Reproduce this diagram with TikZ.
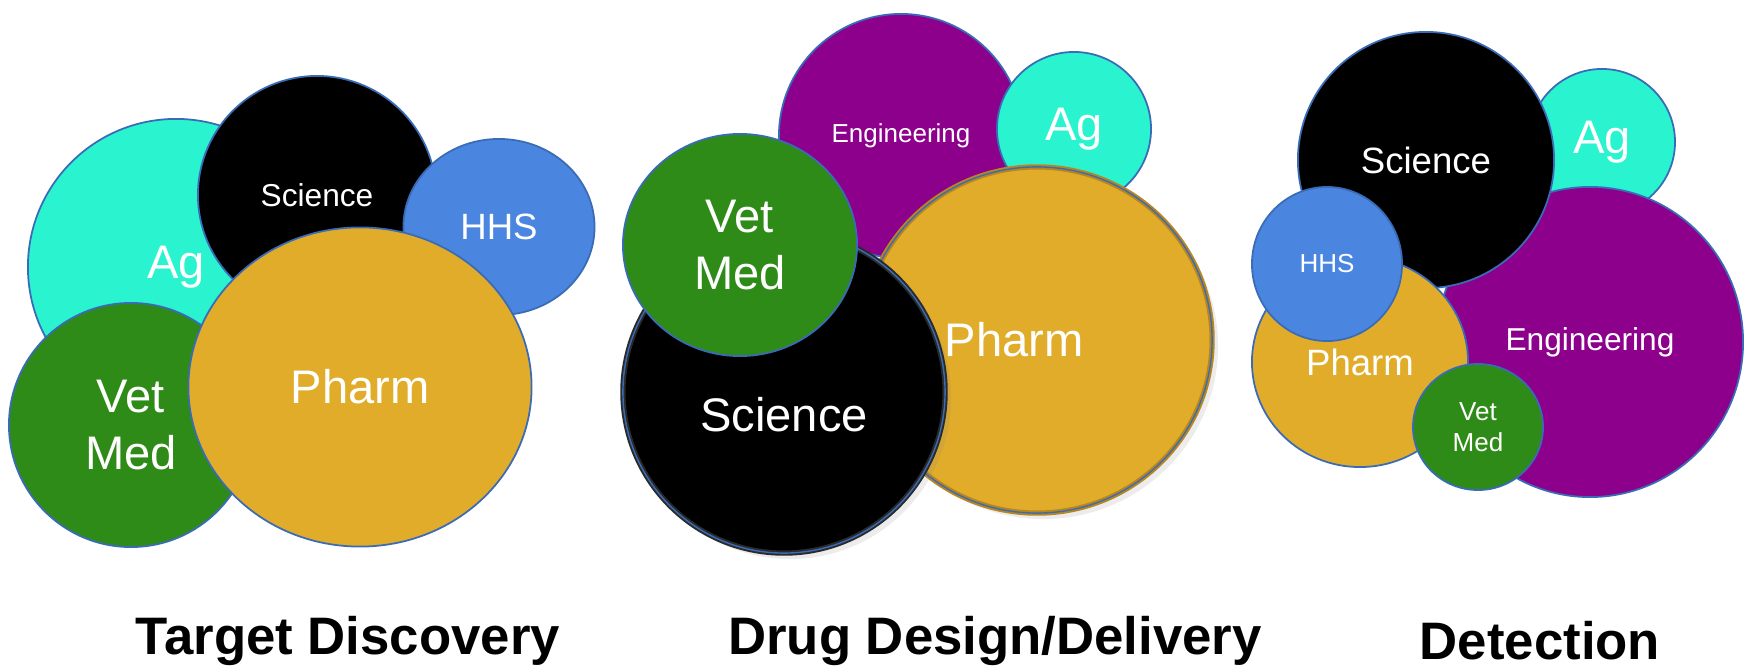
\documentclass[tikz,border=0pt]{standalone}
\usepackage{fontspec}
\setmainfont{Liberation Sans}
\usetikzlibrary{shapes.geometric,shadows}
\definecolor{agcol}{HTML}{2AF3D0}
\definecolor{hhscol}{HTML}{4A86DF}
\definecolor{vetcol}{HTML}{2E8B17}
\definecolor{phcol}{HTML}{E1AC2A}
\definecolor{engcol}{HTML}{8C008C}
\definecolor{edgecol}{HTML}{3A6BB7}
\definecolor{phrim}{HTML}{B8861E}
\definecolor{scirim}{HTML}{2A2A2A}

\begin{document}
\begin{tikzpicture}[x=0.01cm,y=-0.01cm]
\tikzset{blob/.style = {ellipse,draw=edgecol,line width=0.5pt,text=white,inner sep=0pt,align=center}}
\tikzset{dia/.style 2 args = {minimum width=#1mm,minimum height=#2mm}}
\tikzset{rimmed/.style = {draw=#1,line width=1.5pt,postaction={draw=edgecol,line width=0.4pt},
  drop shadow={opacity=0.15,shadow xshift=0.6mm,shadow yshift=-0.6mm}}}
\tikzset{bigtxt/.style = {font=\fontsize{13.4}{16.3}\selectfont}}
\tikzset{midtxt/.style = {font=\fontsize{10.4}{12.7}\selectfont}}
\tikzset{smalltxt/.style = {font=\fontsize{9}{11}\selectfont}}
\tikzset{tinytxt/.style = {font=\fontsize{7.4}{8.8}\selectfont}}
\tikzset{caption/.style = {font=\fontsize{15}{18}\selectfont\bfseries,inner sep=0pt}}
\useasboundingbox (0,0) rectangle (1744,667);

% target discovery
\node[blob,fill=agcol,dia={29.6}{29.6},bigtxt] (ag1) at (176,267) {Ag};
\node[blob,fill=black,dia={23.8}{23.8},smalltxt] (sci1) at (317,195) {Science};
\node[blob,fill=hhscol,dia={19.1}{17.6},midtxt] (hhs1) at (499,227) {HHS};
\node[blob,fill=vetcol,dia={24.4}{24.4},bigtxt] (vet1) at (131,425) {Vet\\Med};
\node[blob,fill=phcol,dia={34.3}{31.9},bigtxt] (ph1) at (360,387) {Pharm};

% drug design/delivery
\node[blob,fill=engcol,dia={24.4}{24.4},tinytxt] (eng2) at (901,136) {Engineering};
\node[blob,fill=agcol,dia={15.4}{15.4},bigtxt] (ag2) at (1074,129) {Ag};
\node[blob,fill=phcol,rimmed=phrim,dia={35}{34.6},
  label={[bigtxt,text=white,xshift=-2.3mm]center:Pharm}] (ph2) at (1037,340) {};
\node[blob,fill=black,rimmed=scirim,dia={32.2}{32.2},
  label={[bigtxt,text=white,yshift=-2.3mm]center:Science}] (sci2) at (784,392) {};
\node[blob,fill=vetcol,dia={23.4}{22.2},bigtxt] (vet2) at (740,245) {Vet\\Med};

% detection
\node[blob,fill=agcol,dia={14.6}{14.6},bigtxt] (ag3) at (1602,142) {Ag};
\node[blob,fill=engcol,dia={30.6}{31},smalltxt] (eng3) at (1590,342) {Engineering};
\node[blob,fill=black,dia={25.6}{25.6},midtxt] (sci3) at (1426,160) {Science};
\node[blob,fill=phcol,dia={21.6}{21}, midtxt] (ph3) at (1360,362) {Pharm};
\node[blob,fill=hhscol,dia={15}{15.4},tinytxt] (hhs3) at (1327,264) {HHS};
\node[blob,fill=vetcol,dia={13}{12.6},tinytxt] (vet3) at (1478,427) {Vet\\Med};

% captions
\node[caption] (cap1) at (348,641) {Target Discovery};
\node[caption] (cap2) at (995,641) {Drug Design/Delivery};
\node[caption] (cap3) at (1540,641) {Detection};
\end{tikzpicture}
\end{document}
